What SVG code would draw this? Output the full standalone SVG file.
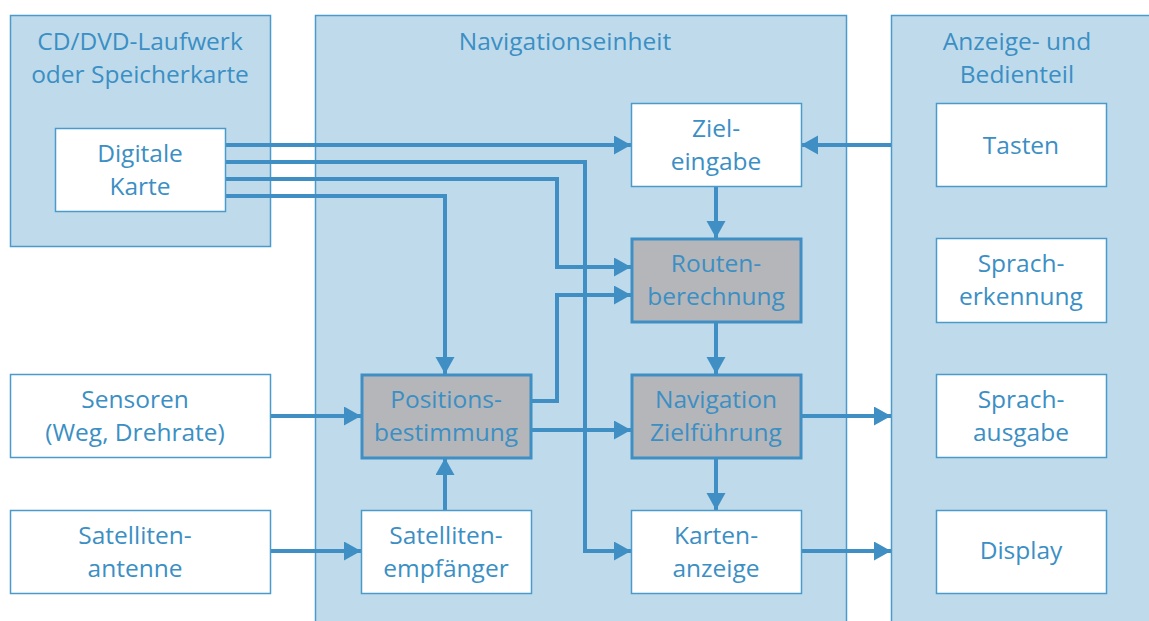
<svg xmlns="http://www.w3.org/2000/svg" width="1149" height="621" viewBox="0 0 1149 621">
<defs>
<style>
.cont{fill:#bfdbeb;stroke:#4a9acb;stroke-width:1.5}
.box{fill:#ffffff;stroke:#4a9acb;stroke-width:1.5}
.gbox{fill:#b5b6b9;stroke:#3f8fc4;stroke-width:3}
.t{font-family:"Open Sans","Noto Sans",sans-serif;font-size:24.5px;fill:#3b8fc4;text-anchor:middle}
.c{fill:none;stroke:#3f8fc4;stroke-width:4}
</style>
<marker id="ah" markerUnits="userSpaceOnUse" markerWidth="20" markerHeight="20" refX="17" refY="9.5" orient="auto">
<path d="M0,0 L17,9.5 L0,19 Z" fill="#3f8fc4"/>
</marker>
</defs>
<rect width="1149" height="621" fill="#ffffff"/>
<g id="cd-dvd">
<rect class="cont" x="10.5" y="15.5" width="260" height="231"/>
<text class="t" x="140" y="50">CD/DVD-Laufwerk</text>
<text class="t" x="140" y="83">oder Speicherkarte</text>
</g>
<g id="navigationseinheit">
<rect class="cont" x="315.5" y="15.5" width="531" height="620"/>
<text class="t" x="565" y="50">Navigationseinheit</text>
</g>
<g id="anzeige">
<rect class="cont" x="891.5" y="15.5" width="270" height="620"/>
<text class="t" x="1017" y="50">Anzeige- und</text>
<text class="t" x="1017" y="83">Bedienteil</text>
</g>
<g id="connectors">
<path class="c" d="M226,145 H631" marker-end="url(#ah)"/>
<path class="c" d="M226,162 H585 V551 H631" marker-end="url(#ah)"/>
<path class="c" d="M226,179 H557 V267 H631" marker-end="url(#ah)"/>
<path class="c" d="M226,196 H445 V374" marker-end="url(#ah)"/>
<path class="c" d="M531,401 H557 V295 H631" marker-end="url(#ah)"/>
<path class="c" d="M531,430 H631" marker-end="url(#ah)"/>
<path class="c" d="M891,145 H801" marker-end="url(#ah)"/>
<path class="c" d="M716,187 V238" marker-end="url(#ah)"/>
<path class="c" d="M716,323 V374" marker-end="url(#ah)"/>
<path class="c" d="M716,458 V510" marker-end="url(#ah)"/>
<path class="c" d="M801,416 H891" marker-end="url(#ah)"/>
<path class="c" d="M801,551 H891" marker-end="url(#ah)"/>
<path class="c" d="M270,416 H361" marker-end="url(#ah)"/>
<path class="c" d="M270,551 H361" marker-end="url(#ah)"/>
<path class="c" d="M445,510 V458" marker-end="url(#ah)"/>
</g>
<g id="digitale-karte">
<rect class="box" x="55.5" y="128.5" width="170" height="83"/>
<text class="t" x="140" y="162">Digitale</text>
<text class="t" x="140" y="195">Karte</text>
</g>
<g id="zieleingabe">
<rect class="box" x="631.5" y="103.5" width="170" height="83"/>
<text class="t" x="716" y="137">Ziel-</text>
<text class="t" x="716" y="170">eingabe</text>
</g>
<g id="routenberechnung">
<rect class="gbox" x="632" y="239" width="169" height="83"/>
<text class="t" x="716" y="272">Routen-</text>
<text class="t" x="716" y="305">berechnung</text>
</g>
<g id="navigation-zielfuehrung">
<rect class="gbox" x="632" y="375" width="169" height="83"/>
<text class="t" x="716" y="408">Navigation</text>
<text class="t" x="716" y="441">Zielführung</text>
</g>
<g id="kartenanzeige">
<rect class="box" x="631.5" y="510.5" width="170" height="83"/>
<text class="t" x="716" y="544">Karten-</text>
<text class="t" x="716" y="577">anzeige</text>
</g>
<g id="positionsbestimmung">
<rect class="gbox" x="362" y="375" width="169" height="83"/>
<text class="t" x="446" y="408">Positions-</text>
<text class="t" x="446" y="441">bestimmung</text>
</g>
<g id="satellitenempfaenger">
<rect class="box" x="361.5" y="510.5" width="170" height="83"/>
<text class="t" x="446" y="544">Satelliten-</text>
<text class="t" x="446" y="577">empfänger</text>
</g>
<g id="sensoren">
<rect class="box" x="10.5" y="374.5" width="260" height="83"/>
<text class="t" x="135" y="408">Sensoren</text>
<text class="t" x="135" y="441">(Weg, Drehrate)</text>
</g>
<g id="satellitenantenne">
<rect class="box" x="10.5" y="510.5" width="260" height="83"/>
<text class="t" x="135" y="544">Satelliten-</text>
<text class="t" x="135" y="577">antenne</text>
</g>
<g id="tasten">
<rect class="box" x="936.5" y="103.5" width="170" height="83"/>
<text class="t" x="1021" y="154">Tasten</text>
</g>
<g id="spracherkennung">
<rect class="box" x="936.5" y="238.5" width="170" height="84"/>
<text class="t" x="1021" y="272">Sprach-</text>
<text class="t" x="1021" y="305">erkennung</text>
</g>
<g id="sprachausgabe">
<rect class="box" x="936.5" y="374.5" width="170" height="83"/>
<text class="t" x="1021" y="408">Sprach-</text>
<text class="t" x="1021" y="441">ausgabe</text>
</g>
<g id="display">
<rect class="box" x="936.5" y="510.5" width="170" height="83"/>
<text class="t" x="1021" y="559">Display</text>
</g>
</svg>
